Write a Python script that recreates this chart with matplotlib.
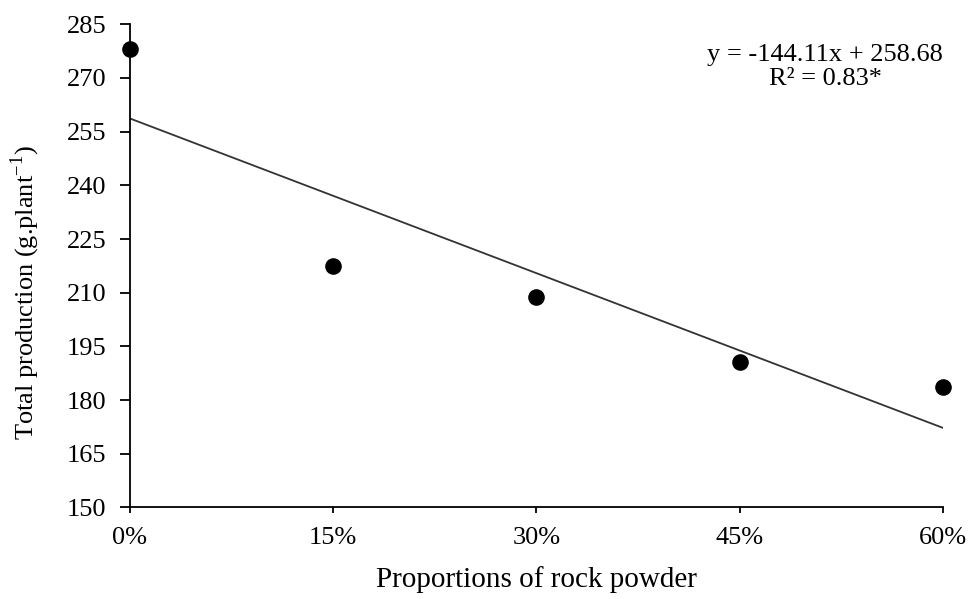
import matplotlib
matplotlib.use("Agg")
import matplotlib.pyplot as plt
import numpy as np

plt.rcParams['font.family'] = ['Liberation Serif', 'DejaVu Serif']
plt.rcParams['mathtext.fontset'] = 'custom'
plt.rcParams['mathtext.rm'] = 'Liberation Serif'

proportions = [0.0, 0.15, 0.30, 0.45, 0.60]
production = [278.2, 217.5, 208.8, 190.5, 183.5]
tick_labels = ["0%", "15%", "30%", "45%", "60%"]
slope = -144.11
intercept = 258.68
yticks = list(range(150, 286, 15))

fig = plt.figure(figsize=(9.73, 5.99), dpi=100)
ax = fig.add_axes([0.1336, 0.153, 0.8355, 0.8064])

ax.scatter(proportions, production, s=120, color='black', zorder=3, clip_on=False)
xl = np.array([proportions[0], proportions[-1]])
ax.plot(xl, slope * xl + intercept, color='#333333', lw=1.3)

ax.set_xlim(0, 0.6)
ax.set_ylim(150, 285)
ax.set_xticks(proportions)
ax.set_xticklabels(tick_labels)
ax.set_yticks(yticks)
ax.tick_params(axis='both', labelsize=19, direction='out', width=1.3, colors='black')
ax.tick_params(axis='x', length=4.5, pad=10)
ax.tick_params(axis='y', length=7, pad=10)
for s in ['top', 'right']:
    ax.spines[s].set_visible(False)
for s in ['left', 'bottom']:
    ax.spines[s].set_linewidth(1.3)

ax.set_xlabel("Proportions of rock powder", fontsize=21, labelpad=12)
ax.set_ylabel("Total production (g.plant$^{-1}$)", fontsize=19)
ax.yaxis.set_label_coords(-0.108, 0.445)

ax.text(0.855, 0.912, "y = -144.11x + 258.68\nR² = 0.83*", transform=ax.transAxes,
        ha='center', va='center', fontsize=19, linespacing=1.15)

fig.savefig("out.png", dpi=100)
